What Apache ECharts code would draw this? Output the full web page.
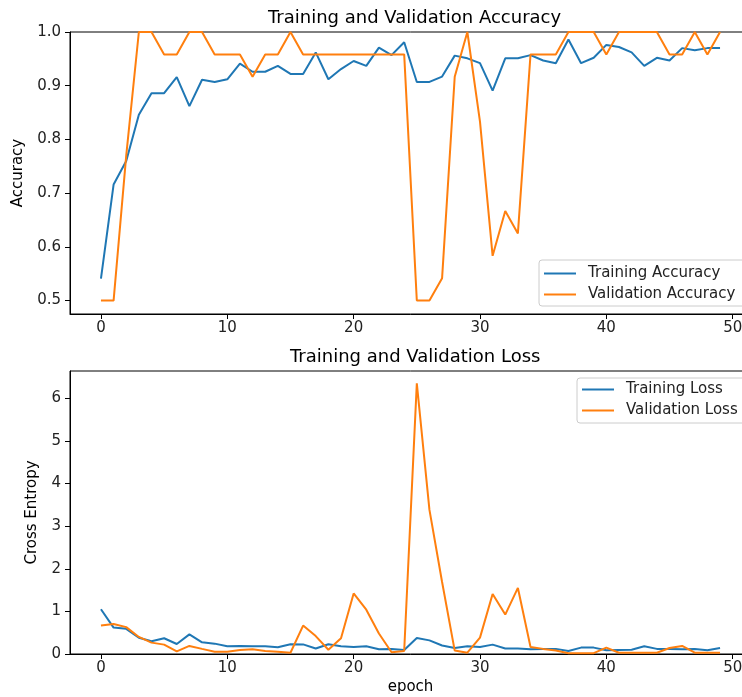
<!DOCTYPE html>
<html><head><meta charset="utf-8">
<script src="https://cdn.jsdelivr.net/npm/echarts@6/dist/echarts.min.js"></script>
<style>html,body{margin:0;padding:0;overflow:hidden;background:#fff}#c{width:760px;height:697px}</style>
</head><body><div id="c"></div>
<script>
const epochs = [0,1,2,3,4,5,6,7,8,9,10,11,12,13,14,15,16,17,18,19,20,21,22,23,24,25,26,27,28,29,30,31,32,33,34,35,36,37,38,39,40,41,42,43,44,45,46,47,48,49];
const trainAcc = [0.541,0.716,0.760,0.846,0.886,0.886,0.916,0.862,0.911,0.907,0.912,0.941,0.926,0.926,0.937,0.922,0.922,0.962,0.912,0.931,0.946,0.937,0.971,0.957,0.981,0.907,0.907,0.917,0.956,0.951,0.942,0.891,0.951,0.951,0.957,0.947,0.942,0.986,0.942,0.952,0.976,0.972,0.962,0.937,0.952,0.947,0.970,0.966,0.970,0.970];
const valAcc = [0.5,0.5,0.77,1.0,1.0,0.9583,0.9583,1.0,1.0,0.9583,0.9583,0.9583,0.9167,0.9583,0.9583,1.0,0.9583,0.9583,0.9583,0.9583,0.9583,0.9583,0.9583,0.9583,0.9583,0.5,0.5,0.5417,0.9167,1.0,0.8333,0.5833,0.6667,0.625,0.9583,0.9583,0.9583,1.0,1.0,1.0,0.9583,1.0,1.0,1.0,1.0,0.9583,0.9583,1.0,0.9583,1.0];
const trainLoss = [1.05,0.62,0.59,0.38,0.30,0.37,0.235,0.46,0.275,0.243,0.18,0.19,0.18,0.18,0.157,0.227,0.225,0.13,0.23,0.18,0.165,0.18,0.11,0.12,0.094,0.376,0.32,0.20,0.14,0.18,0.165,0.22,0.13,0.13,0.11,0.12,0.12,0.07,0.15,0.15,0.086,0.094,0.10,0.18,0.12,0.12,0.11,0.12,0.086,0.14];
const valLoss = [0.667,0.706,0.63,0.40,0.267,0.22,0.063,0.19,0.12,0.055,0.055,0.094,0.11,0.07,0.055,0.03,0.667,0.42,0.10,0.37,1.42,1.04,0.48,0.04,0.07,6.35,3.38,1.69,0.08,0.03,0.384,1.41,0.925,1.55,0.165,0.12,0.08,0.02,0.02,0.02,0.15,0.03,0.03,0.03,0.03,0.14,0.19,0.03,0.03,0.03];
const xTicks = [0,10,20,30,40,50];
const accTicks = [0.5,0.6,0.7,0.8,0.9,1.0];
const lossTicks = [0,1,2,3,4,5,6];

const FONT = 'DejaVu Sans';
const BLUE = '#1f77b4', ORANGE = '#ff7f0e';
const pair = (ys) => epochs.map((e, i) => [e, ys[i]]);

const chart = echarts.init(document.getElementById('c'), null, {renderer: 'canvas'});

function xAxisDef(gridIndex, name) {
  return {
    type: 'value', gridIndex, min: -2.45, max: 51.45,
    name: name || '', nameLocation: 'middle', nameGap: 26,
    nameTextStyle: {fontFamily: FONT, fontSize: 15, color: '#000'},
    splitLine: {show: false},
    axisLine: {show: true, onZero: false, lineStyle: {color: '#000', width: 1}},
    axisTick: {show: true, length: 5, customValues: xTicks, lineStyle: {color: '#000'}},
    axisLabel: {customValues: xTicks, fontFamily: FONT, fontSize: 15, color: '#222', margin: 7}
  };
}
function yAxisDef(gridIndex, min, max, ticks, name, gap, fmt) {
  return {
    type: 'value', gridIndex, min, max,
    name, nameLocation: 'middle', nameGap: gap, nameRotate: 90,
    nameTextStyle: {fontFamily: FONT, fontSize: 15, color: '#000'},
    splitLine: {show: false},
    axisLine: {show: true, onZero: false, lineStyle: {color: '#000', width: 1}},
    axisTick: {show: true, length: 5, customValues: ticks, lineStyle: {color: '#000'}},
    axisLabel: {customValues: ticks, fontFamily: FONT, fontSize: 15, color: '#222', margin: 9, formatter: fmt}
  };
}
function legendDef(left, top, names, pad) {
  return {
    orient: 'vertical', left, top, data: names.map(n => ({name: n, icon: 'rect'})),
    itemWidth: 32, itemHeight: 2, itemGap: 6,
    padding: pad,
    borderColor: '#cccccc', borderWidth: 1, borderRadius: 3,
    backgroundColor: 'rgba(255,255,255,0.8)',
    textStyle: {fontFamily: FONT, fontSize: 15, color: '#222', padding: [0, 0, 0, 7]}
  };
}

chart.setOption({
  animation: false,
  backgroundColor: '#fff',
  title: [
    {text: 'Training and Validation Accuracy', left: 263, top: 4, textStyle: {fontFamily: FONT, fontSize: 18, fontWeight: 'normal', color: '#000'}},
    {text: 'Training and Validation Loss', left: 285, top: 343, textStyle: {fontFamily: FONT, fontSize: 18, fontWeight: 'normal', color: '#000'}}
  ],
  grid: [
    {left: 70, top: 32, width: 681, height: 282, show: true, borderColor: '#000', borderWidth: 1, backgroundColor: 'transparent'},
    {left: 70, top: 371, width: 681, height: 283, show: true, borderColor: '#000', borderWidth: 1, backgroundColor: 'transparent'}
  ],
  xAxis: [xAxisDef(0), xAxisDef(1, 'epoch')],
  yAxis: [
    yAxisDef(0, 0.475, 1.0, accTicks, 'Accuracy', 44, v => v.toFixed(1)),
    yAxisDef(1, 0, 6.64, lossTicks, 'Cross Entropy', 30, v => String(Math.round(v)))
  ],
  legend: [
    legendDef(539, 260, ['Training Accuracy', 'Validation Accuracy'], [6, 40, 4, 5]),
    legendDef(577, 378, ['Training Loss', 'Validation Loss'], [4, 40, 5, 5])
  ],
  series: [
    {name: 'Training Accuracy', type: 'line', xAxisIndex: 0, yAxisIndex: 0, data: pair(trainAcc), symbol: 'none', color: BLUE, lineStyle: {width: 2, color: BLUE}, clip: true},
    {name: 'Validation Accuracy', type: 'line', xAxisIndex: 0, yAxisIndex: 0, data: pair(valAcc), symbol: 'none', color: ORANGE, lineStyle: {width: 2, color: ORANGE}, clip: true},
    {name: 'Training Loss', type: 'line', xAxisIndex: 1, yAxisIndex: 1, data: pair(trainLoss), symbol: 'none', color: BLUE, lineStyle: {width: 2, color: BLUE}, clip: true},
    {name: 'Validation Loss', type: 'line', xAxisIndex: 1, yAxisIndex: 1, data: pair(valLoss), symbol: 'none', color: ORANGE, lineStyle: {width: 2, color: ORANGE}, clip: true}
  ]
});
</script>
</body></html>
